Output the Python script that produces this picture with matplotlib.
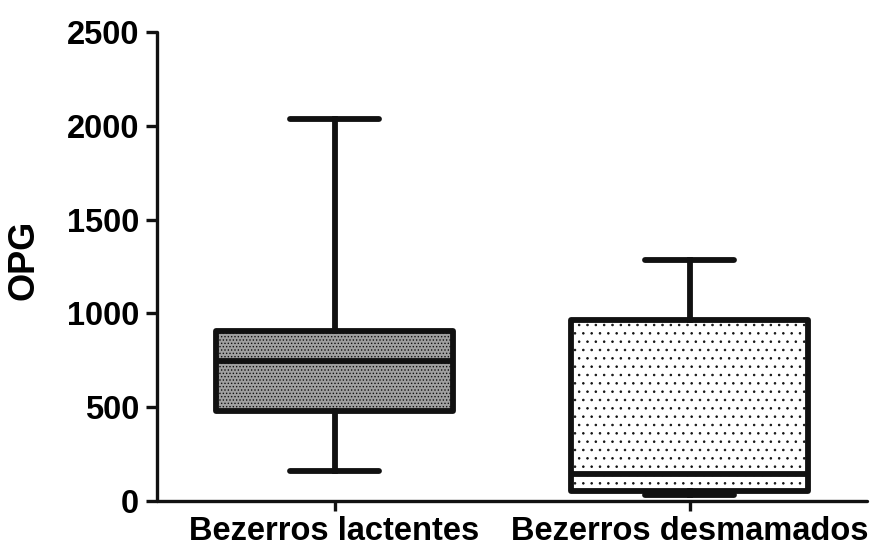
import matplotlib
matplotlib.use("Agg")
import matplotlib.pyplot as plt

plt.rcParams['font.family'] = ['Liberation Sans', 'DejaVu Sans']
plt.rcParams['hatch.linewidth'] = 0.6

categories = ["Bezerros lactentes", "Bezerros desmamados"]
whislo = [160, 30]
q1 = [480, 55]
med = [745, 145]
q3 = [905, 965]
whishi = [2035, 1285]
yticks = [0, 500, 1000, 1500, 2000, 2500]

stats = []
for i, c in enumerate(categories):
    stats.append(dict(label=c, whislo=whislo[i], q1=q1[i], med=med[i], q3=q3[i], whishi=whishi[i], fliers=[]))

fig = plt.figure(figsize=(8.92, 5.47), dpi=100)
ax = fig.add_axes([0.176, 0.084, 0.796, 0.8575])

lw = 4.2
bp = ax.bxp(stats, positions=[1, 2], widths=0.665, patch_artist=True, showfliers=False,
            capwidths=0.25,
            boxprops=dict(linewidth=lw, edgecolor='#111111'),
            medianprops=dict(linewidth=lw, color='#111111', solid_capstyle='butt'),
            whiskerprops=dict(linewidth=lw, color='#111111'),
            capprops=dict(linewidth=lw, color='#111111', solid_capstyle='round'))

styles = [('#a0a0a0', '.....'), ('white', '..')]
for patch, (fc, h) in zip(bp['boxes'], styles):
    patch.set_facecolor(fc)
    patch.set_hatch(h)
    patch.set_joinstyle('round')

ax.set_xlim(0.5, 2.5)
ax.set_ylim(0, 2500)
ax.set_yticks(yticks)
ax.set_xticks([1, 2])
ax.set_xticklabels(categories)
for s in ['top', 'right']:
    ax.spines[s].set_visible(False)
for s in ['left', 'bottom']:
    ax.spines[s].set_linewidth(2.4)
    ax.spines[s].set_color('#111111')
    ax.spines[s].set_capstyle('round')
ax.tick_params(axis='y', length=8, width=2.4, labelsize=23.5, pad=5, color='#111111')
ax.tick_params(axis='x', length=7, width=2.4, labelsize=23.5, pad=4, color='#111111')
for t in ax.get_xticklabels() + ax.get_yticklabels():
    t.set_fontweight('bold')
ax.set_ylabel('OPG', fontsize=26, fontweight='bold')
ax.yaxis.set_label_coords(-0.162, 0.515)

fig.savefig('out.png', dpi=100)
